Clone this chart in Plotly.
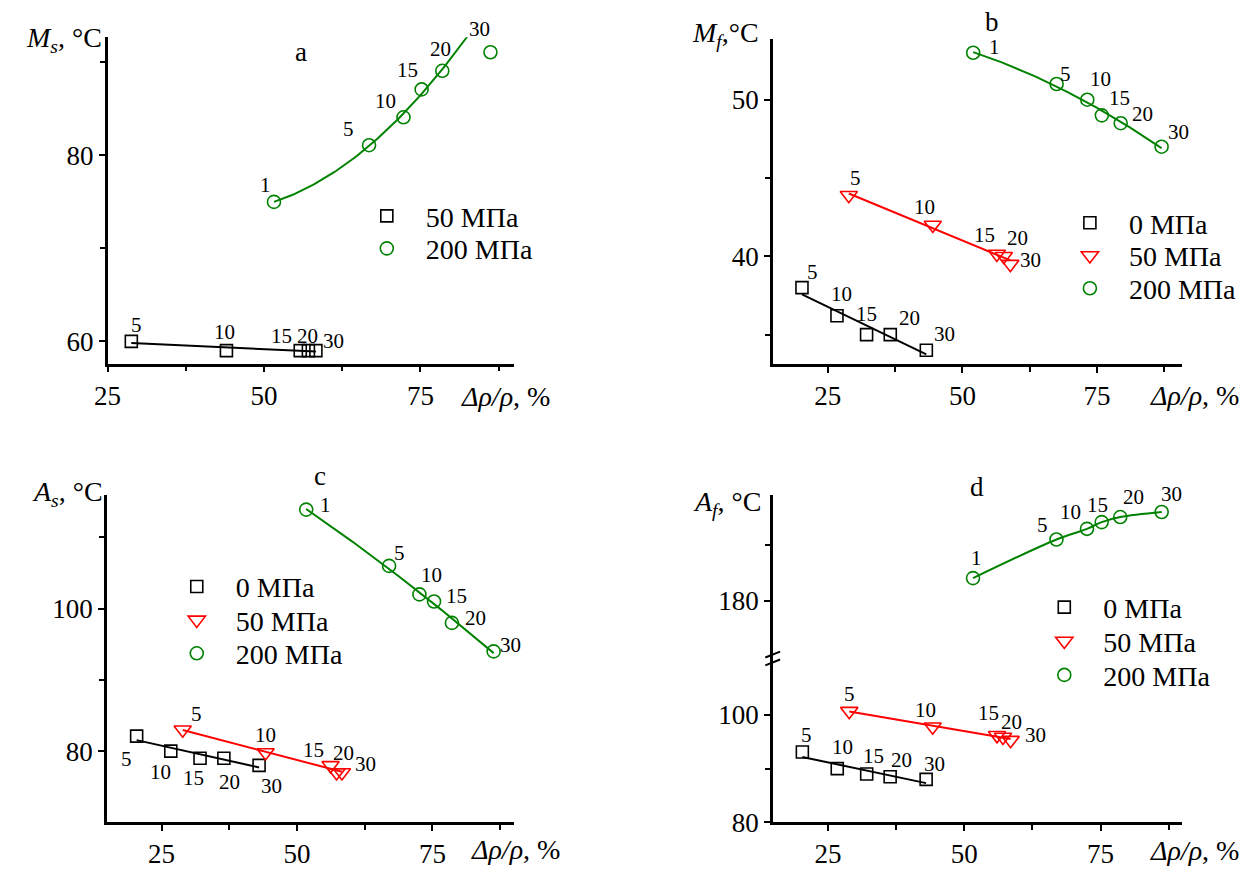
import numpy as np
import plotly.graph_objects as go

W, H = 1242, 874
FONT = "Liberation Serif, Times New Roman, serif"
GREEN = "rgb(0,130,0)"
RED = "rgb(255,0,0)"
BLACK = "rgb(0,0,0)"

# ---------------- data: Δρ/ρ (%) vs transformation temperature (°C) ----------------
# point tags give the number of cycles
a_50_x = [28.8, 44.0, 55.8, 57.1, 58.3]
a_50_y = [60.0, 59.0, 59.0, 59.0, 59.0]
a_50_tag = ["5", "10", "15", "20", "30"]
a_200_x = [51.6, 66.8, 72.3, 75.2, 78.5, 86.2]
a_200_y = [75.0, 81.1, 84.1, 87.1, 89.1, 91.1]
a_200_tag = ["1", "5", "10", "15", "20", "30"]
a_200_fit_pts = 5        # points used for the Ms(200 MPa) trend curve
a_200_fit_end = 84.4     # Δρ/ρ where that curve stops

b_0_x = [20.2, 26.7, 32.2, 36.6, 43.3]
b_0_y = [38.0, 36.2, 35.0, 35.0, 34.0]
b_0_tag = ["5", "10", "15", "20", "30"]
b_50_x = [28.9, 44.5, 56.4, 57.7, 58.9]
b_50_y = [43.9, 42.0, 40.15, 40.0, 39.5]
b_50_tag = ["5", "10", "15", "20", "30"]
b_200_x = [52.0, 67.5, 73.2, 75.9, 79.4, 87.0]
b_200_y = [53.0, 51.0, 50.0, 49.0, 48.5, 47.0]
b_200_tag = ["1", "5", "10", "15", "20", "30"]

c_0_x = [20.4, 26.7, 32.1, 36.5, 43.0]
c_0_y = [82.1, 80.0, 79.0, 79.0, 78.0]
c_0_tag = ["5", "10", "15", "20", "30"]
c_50_x = [28.9, 44.2, 56.2, 57.3, 58.3]
c_50_y = [83.0, 79.8, 78.0, 77.0, 77.0]
c_50_tag = ["5", "10", "15", "20", "30"]
c_200_x = [51.7, 67.0, 72.6, 75.3, 78.6, 86.3]
c_200_y = [113.9, 106.0, 102.0, 101.0, 98.0, 94.0]
c_200_tag = ["1", "5", "10", "15", "20", "30"]

d_0_x = [20.3, 26.7, 32.1, 36.4, 43.0]
d_0_y = [93.1, 90.0, 89.0, 88.5, 88.0]
d_0_tag = ["5", "10", "15", "20", "30"]
d_50_x = [28.9, 44.2, 56.0, 57.1, 58.5]
d_50_y = [100.7, 97.8, 96.2, 95.9, 95.3]
d_50_tag = ["5", "10", "15", "20", "30"]
d_200_x = [51.6, 66.9, 72.5, 75.2, 78.6, 86.2]
d_200_y = [184.0, 190.9, 192.8, 194.0, 194.9, 195.8]
d_200_tag = ["1", "5", "10", "15", "20", "30"]

# tag placement relative to each marker (screen px, +x right, +y down)
a_50_off = [(5, -16), (-2, -19), (-19, -15), (-1, -15), (18, -10)]
a_200_off = [(-8, -17), (-21, -16), (-18, -16), (-14, -19), (-2, -22), (-11, -23)]
b_0_off = [(11, -16), (5, -22), (0, -21), (19, -17), (18, -16)]
b_50_off = [(7, -17), (-8, -18), (-12, -19), (14, -18), (20, -4)]
b_200_off = [(21, -6), (9, -10), (13, -21), (18, -17), (22, -9), (17, -15)]
c_0_off = [(-10, 23), (-10, 21), (-7, 20), (6, 24), (12, 21)]
c_50_off = [(14, -16), (0, -18), (-17, -15), (7, -19), (24, -8)]
c_200_off = [(19, -5), (10, -13), (12, -19), (22, -6), (24, -5), (17, -6)]
d_0_off = [(4, -17), (5, -22), (7, -18), (11, -17), (8, -15)]
d_50_off = [(0, -17), (-7, -17), (-9, -22), (8, -15), (25, -5)]
d_200_off = [(3, -20), (-14, -14), (-16, -17), (-4, -17), (13, -20), (10, -18)]


def px_x(p):
    return p / W


def px_y(p):
    return 1 - p / H


fig = go.Figure()
annotations = []

STYLE = {
    "square": dict(symbol="square-open", color=BLACK, size=12),
    "triangle": dict(symbol="triangle-down-open", color=RED, size=15),
    "circle": dict(symbol="circle-open", color=GREEN, size=13),
}

# legend rows: symbol-centre x, first-row centre y, row pitch (px)
LEGEND_POS = {
    "a": (378, 220, 33),
    "b": (1092, 227, 33.3),
    "c": (185, 597, 34),
    "d": (1066, 618, 34.5),
}
LEG_ITEMWIDTH = 68
legend_layout = {}
legend_count = [0]


def new_legend(panel, row):
    legend_count[0] += 1
    key = "legend" if legend_count[0] == 1 else f"legend{legend_count[0]}"
    sx, sy, pitch = LEGEND_POS[panel]
    legend_layout[key] = dict(
        x=px_x(sx - 39), y=px_y(sy + row * pitch), xanchor="left", yanchor="middle",
        font=dict(family=FONT, size=28, color="black"), bgcolor="rgba(0,0,0,0)",
        itemwidth=LEG_ITEMWIDTH, itemclick=False, itemdoubleclick=False)
    return key


def add_series(x, y, tags, offs, style, label, xa, ya, panel, row, fit="lin",
               fit_pts=None, fit_end=None):
    st = STYLE[style]
    xa_ref = "x" if xa == 1 else f"x{xa}"
    ya_ref = "y" if ya == 1 else f"y{ya}"
    xs = np.asarray(x)
    ys = np.asarray(y)
    # trend line
    if fit == "spline":
        fig.add_trace(go.Scatter(x=xs, y=ys, mode="lines",
                                 line=dict(color=st["color"], width=2, shape="spline"),
                                 xaxis=xa_ref, yaxis=ya_ref, showlegend=False, hoverinfo="skip"))
    else:
        deg = 1 if fit == "lin" else 2
        n = fit_pts or len(xs)
        coef = np.polyfit(xs[:n], ys[:n], deg)
        xf = np.linspace(xs.min(), fit_end or xs.max(), 80)
        fig.add_trace(go.Scatter(x=xf, y=np.polyval(coef, xf), mode="lines",
                                 line=dict(color=st["color"], width=2),
                                 xaxis=xa_ref, yaxis=ya_ref, showlegend=False, hoverinfo="skip"))
    fig.add_trace(go.Scatter(
        x=xs, y=ys, mode="markers", name=label,
        marker=dict(symbol=st["symbol"], size=st["size"], color=st["color"],
                    line=dict(color=st["color"], width=1.6)),
        xaxis=xa_ref, yaxis=ya_ref, legend=new_legend(panel, row), showlegend=True))
    for xi, yi, t, (dx, dy) in zip(x, y, tags, offs):
        annotations.append(dict(x=xi, y=yi, xref=xa_ref, yref=ya_ref, text=t, showarrow=False,
                                xshift=dx, yshift=-dy,
                                font=dict(family=FONT, size=21, color="black")))


# panel a
add_series(a_50_x, a_50_y, a_50_tag, a_50_off, "square", "50 МПа", 1, 1, "a", 0, "lin")
add_series(a_200_x, a_200_y, a_200_tag, a_200_off, "circle", "200 МПа", 1, 1, "a", 1, "quad",
           fit_pts=a_200_fit_pts, fit_end=a_200_fit_end)
# panel b
add_series(b_0_x, b_0_y, b_0_tag, b_0_off, "square", "0 МПа", 2, 2, "b", 0, "lin")
add_series(b_50_x, b_50_y, b_50_tag, b_50_off, "triangle", "50 МПа", 2, 2, "b", 1, "lin")
add_series(b_200_x, b_200_y, b_200_tag, b_200_off, "circle", "200 МПа", 2, 2, "b", 2, "quad")
# panel c
add_series(c_0_x, c_0_y, c_0_tag, c_0_off, "square", "0 МПа", 3, 3, "c", 0, "lin")
add_series(c_50_x, c_50_y, c_50_tag, c_50_off, "triangle", "50 МПа", 3, 3, "c", 1, "lin")
add_series(c_200_x, c_200_y, c_200_tag, c_200_off, "circle", "200 МПа", 3, 3, "c", 2, "quad")
# panel d (broken y axis: lower part y4, upper part y5)
add_series(d_0_x, d_0_y, d_0_tag, d_0_off, "square", "0 МПа", 4, 4, "d", 0, "lin")
add_series(d_50_x, d_50_y, d_50_tag, d_50_off, "triangle", "50 МПа", 4, 4, "d", 1, "lin")
add_series(d_200_x, d_200_y, d_200_tag, d_200_off, "circle", "200 МПа", 4, 5, "d", 2, "spline")

tickfont = dict(family=FONT, size=27, color="black")


def xaxis(dom, rng, anchor):
    return dict(domain=[px_x(dom[0]), px_x(dom[1])], range=rng, anchor=anchor,
                showline=True, linecolor="black", linewidth=2.5, showgrid=False, zeroline=False,
                ticks="outside", ticklen=6, tickwidth=2, tickcolor="black",
                tickvals=[25, 50, 75], tickfont=tickfont,
                minor=dict(tickvals=[37.5, 62.5, 87.5], ticks="outside", ticklen=5,
                           tickwidth=2, tickcolor="black"))


def yaxis(dom, rng, anchor, major, minor):
    return dict(domain=[px_y(dom[1]), px_y(dom[0])], range=rng, anchor=anchor,
                showline=True, linecolor="black", linewidth=2.5, showgrid=False, zeroline=False,
                ticks="outside", ticklen=6, tickwidth=2, tickcolor="black",
                tickvals=major, tickfont=tickfont,
                minor=dict(tickvals=minor, ticks="outside", ticklen=5, tickwidth=2,
                           tickcolor="black"))


fig.update_layout(
    width=W, height=H, margin=dict(l=0, r=0, t=0, b=0),
    paper_bgcolor="white", plot_bgcolor="white",
    font=dict(family=FONT, color="black"),
    xaxis=xaxis((95, 508), [25, 90], "y"),
    yaxis=yaxis((38, 370), [57.6, 92.7], "x", [60, 80], [70, 90]),
    xaxis2=xaxis((770.7, 1186.2), [14.8, 90.8], "y2"),
    yaxis2=yaxis((39.3, 370.7), [33.1, 53.9], "x2", [40, 50], [35, 45]),
    xaxis3=xaxis((94.3, 508), [14.9, 90.1], "y3"),
    yaxis3=yaxis((503.3, 836.7), [70, 116], "x3", [80, 100], [90, 110]),
    xaxis4=xaxis((770.7, 1186), [14.9, 89.9], "y4"),
    yaxis4=yaxis((670, 836.7), [80, 110.5], "x4", [80, 100], [90]),
    yaxis5=yaxis((503.3, 670), [169.65, 198.9], "x4", [180], [190]),
    **legend_layout,
)


def paper_text(text, x, y, anchor="center", size=28):
    annotations.append(dict(text=text, x=px_x(x), y=px_y(y), xref="paper", yref="paper",
                            xanchor=anchor, yanchor="middle", showarrow=False,
                            font=dict(family=FONT, size=size, color="black")))


# axis titles
paper_text("<i>M</i><sub><i>s</i></sub>, °C", 10, 40, anchor="left")
paper_text("<i>M</i><sub><i>f</i></sub>,°C", 686, 35, anchor="left")
paper_text("<i>A</i><sub><i>s</i></sub>, °C", 16, 502, anchor="left")
paper_text("<i>A</i><sub><i>f</i></sub>, °C", 688, 512, anchor="left")
paper_text("<i>Δρ/ρ</i>, %", 452, 403, anchor="left")
paper_text("<i>Δρ/ρ</i>, %", 1152, 402, anchor="left")
paper_text("<i>Δρ/ρ</i>, %", 462, 864, anchor="left")
paper_text("<i>Δρ/ρ</i>, %", 1152, 865, anchor="left")
# panel letters
paper_text("a", 291, 53, size=27)
paper_text("b", 993, 22, size=27)
paper_text("c", 311, 484, size=27)
paper_text("d", 978, 495, size=27)

# axis-break marks on the Af axis
shapes = []
for off in (-4, 4):
    shapes.append(dict(type="line", xref="paper", yref="paper",
                       x0=px_x(763), y0=px_y(673 + off), x1=px_x(778), y1=px_y(667 + off),
                       line=dict(color="black", width=2)))

fig.update_layout(annotations=annotations, shapes=shapes)
fig.write_html("out.html")
